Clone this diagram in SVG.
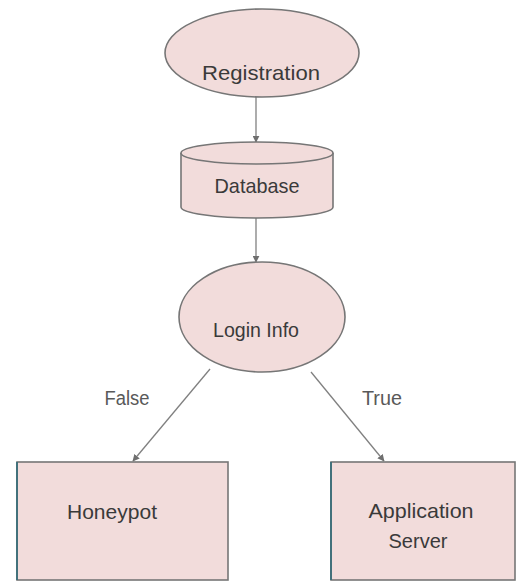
<svg xmlns="http://www.w3.org/2000/svg" width="519" height="582" viewBox="0 0 519 582">
<defs>
<marker id="arr" viewBox="0 0 10 10" refX="9" refY="5" markerWidth="7" markerHeight="7" orient="auto" markerUnits="userSpaceOnUse">
<path d="M0,0 L10,5 L0,10 z" fill="#6f6f6f"/>
</marker>
</defs>
<style>
.shape{fill:#f2dcdb;stroke:#767676;stroke-width:1.6}
.lbl{font-family:"Liberation Sans",Arial,sans-serif;font-size:21px;fill:#3a3a3a;text-anchor:middle}
.edge{fill:none;stroke:#808080;stroke-width:1.3;marker-end:url(#arr)}
.edgelbl{font-family:"Liberation Sans",Arial,sans-serif;font-size:20px;fill:#595959;text-anchor:middle}
</style>
<rect width="519" height="582" fill="#ffffff"/>
<g id="connectors">
<line class="edge" x1="256" y1="97" x2="256" y2="142"/>
<line class="edge" x1="256" y1="218" x2="256" y2="262"/>
<line class="edge" x1="210" y1="369" x2="133" y2="461"/>
<line class="edge" x1="311" y1="372" x2="384" y2="461"/>
<text class="edgelbl" x="127" y="405" textLength="45" lengthAdjust="spacingAndGlyphs">False</text>
<text class="edgelbl" x="382" y="405" textLength="40" lengthAdjust="spacingAndGlyphs">True</text>
</g>
<g id="registration">
<ellipse class="shape" cx="262" cy="53" rx="97" ry="44"/>
<text class="lbl" x="261" y="80" textLength="118" lengthAdjust="spacingAndGlyphs">Registration</text>
</g>
<g id="database">
<path class="shape" d="M181,153 L181,207 A76,11 0 0 0 333,207 L333,153"/>
<ellipse class="shape" cx="257" cy="153" rx="76" ry="11"/>
<text class="lbl" x="257" y="193" textLength="85" lengthAdjust="spacingAndGlyphs">Database</text>
</g>
<g id="login-info">
<ellipse class="shape" cx="262" cy="317" rx="83" ry="55"/>
<text class="lbl" x="256" y="337" textLength="86" lengthAdjust="spacingAndGlyphs">Login Info</text>
</g>
<g id="honeypot">
<rect class="shape" x="17" y="462" width="211" height="118"/>
<line x1="17" y1="462" x2="17" y2="580" stroke="#3a6f7a" stroke-width="1.8"/>
<text class="lbl" x="112" y="519" textLength="90" lengthAdjust="spacingAndGlyphs">Honeypot</text>
</g>
<g id="application-server">
<rect class="shape" x="331" y="462" width="184" height="118"/>
<line x1="331" y1="462" x2="331" y2="580" stroke="#3a6f7a" stroke-width="1.8"/>
<text class="lbl" x="421" y="518" textLength="105" lengthAdjust="spacingAndGlyphs">Application</text>
<text class="lbl" x="418" y="548" textLength="59" lengthAdjust="spacingAndGlyphs">Server</text>
</g>
</svg>
